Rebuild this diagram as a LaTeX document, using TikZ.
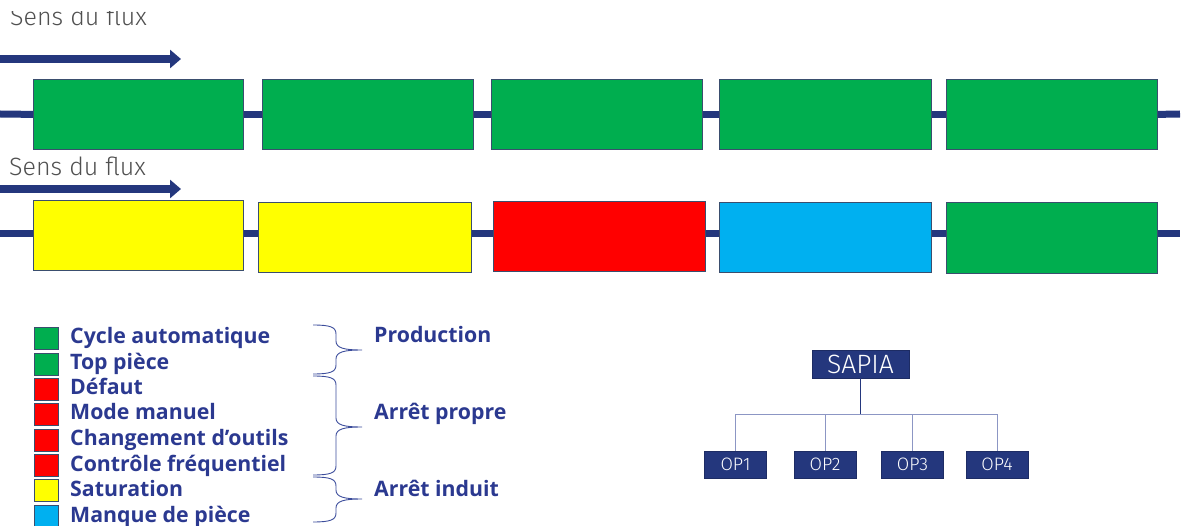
\documentclass[tikz,border=0pt]{standalone}
\usepackage{fontspec}
\usetikzlibrary{arrows.meta}
\newfontfamily\opensans{Open Sans}
\newfontfamily\firalight{Fira Sans Light}

\definecolor{navy}{HTML}{24377D}
\definecolor{legtext}{HTML}{2B3990}
\definecolor{bracecol}{HTML}{3B4C9B}
\definecolor{treeline}{HTML}{8C96C4}
\definecolor{boxedge}{HTML}{3A4E6E}
\definecolor{greytext}{HTML}{505050}
\definecolor{stGreen}{HTML}{00AE4F}
\definecolor{stYellow}{HTML}{FFFF00}
\definecolor{stRed}{HTML}{FF0000}
\definecolor{stBlue}{HTML}{00B0F0}

\tikzset{
  statebox/.style={draw=boxedge, line width=0.8pt, anchor=north west,
    inner sep=0pt, minimum width=#1, minimum height=70pt},
  flowline/.style={draw=navy, line width=7pt},
  flowarrow/.style={draw=navy, line width=8pt, -{Triangle[width=18pt,length=11pt]}},
  flowlabel/.style={anchor=base west, inner sep=0pt, text=greytext,
    font=\firalight\fontsize{25}{25}\selectfont},
  legsquare/.style={draw=boxedge, line width=0.6pt, minimum width=24pt,
    minimum height=22pt, inner sep=0pt},
  legitem/.style={anchor=base west, inner sep=0pt, text=legtext,
    font=\opensans\bfseries\fontsize{21.3}{21.3}\selectfont},
  grouplabel/.style={anchor=base west, inner sep=0pt, text=legtext,
    font=\opensans\bfseries\fontsize{21.3}{21.3}\selectfont},
  bracepath/.style={draw=bracecol, line width=0.9pt},
  treebox/.style={fill=navy, draw=navy!80!black, line width=0.6pt, text=white,
    inner sep=0pt},
  treelink/.style={draw=treeline, line width=1pt},
}

% right curly brace from y=#1 to y=#2 with its point at y=#3
\newcommand\legbrace[3]{%
  \draw[bracepath] (313,#1) .. controls (330,#1) and (336,#1+2) .. (336,#1+9)
    -- (336,#3-9) .. controls (336,#3-2) and (344,#3) .. (362,#3)
    .. controls (344,#3) and (336,#3+2) .. (336,#3+9)
    -- (336,#2-9) .. controls (336,#2-2) and (330,#2) .. (313,#2);}

\begin{document}
\begin{tikzpicture}[x=1pt, y=-1pt]
\useasboundingbox (0,0) rectangle (1186,526);

% ---- first line: all stations in automatic cycle
\begin{scope}
  \clip (0,12) rectangle (300,40);
  \node[flowlabel] (lab1) at (10,26) {Sens du flux};
\end{scope}
\coordinate (a1s) at (0,59);
\coordinate (a1e) at (181,59);
\draw[flowarrow] (a1s) -- (a1e);

\node[statebox=210pt, fill=stGreen] (t1) at (33,79) {};
\node[statebox=211pt, fill=stGreen] (t2) at (262,79) {};
\node[statebox=211pt, fill=stGreen] (t3) at (491,79) {};
\node[statebox=212pt, fill=stGreen] (t4) at (719,79) {};
\node[statebox=211pt, fill=stGreen] (t5) at (946,79) {};
\coordinate (t0) at (0,114);
\coordinate (t6) at (1180,114);
\draw[flowline] (t0) -- (t1.west);
\draw[flowline] (t1.east) -- (t2.west);
\draw[flowline] (t2.east) -- (t3.west);
\draw[flowline] (t3.east) -- (t4.west);
\draw[flowline] (t4.east) -- (t5.west);
\draw[flowline] (t5.east) -- (t6);

% ---- second line: mixed states
\node[flowlabel] (lab2) at (9,176) {Sens du flux};
\coordinate (a2s) at (0,189);
\coordinate (a2e) at (181,189);
\draw[flowarrow] (a2s) -- (a2e);

\node[statebox=210pt, fill=stYellow] (b1) at (33,200) {};
\node[statebox=213pt, fill=stYellow] (b2) at (258,202) {};
\node[statebox=212pt, fill=stRed] (b3) at (493,201) {};
\node[statebox=212pt, fill=stBlue] (b4) at (719,202) {};
\node[statebox=211pt, fill=stGreen, minimum height=71pt] (b5) at (946,202) {};
\coordinate (b0) at (0,234);
\coordinate (b6) at (1180,234);
\draw[flowline] (b0) -- (b1.west |- b0);
\draw[flowline] (b1.east |- b0) -- (b2.west |- b0);
\draw[flowline] (b2.east |- b0) -- (b3.west |- b0);
\draw[flowline] (b3.east |- b0) -- (b4.west |- b0);
\draw[flowline] (b4.east |- b0) -- (b5.west |- b0);
\draw[flowline] (b5.east |- b0) -- (b6);

% ---- legend
\node[legsquare, fill=stGreen]  (s1) at (46,338) {};
\node[legsquare, fill=stGreen]  (s2) at (46,364) {};
\node[legsquare, fill=stRed]    (s3) at (46,389) {};
\node[legsquare, fill=stRed]    (s4) at (46,414) {};
\node[legsquare, fill=stRed]    (s5) at (46,440) {};
\node[legsquare, fill=stRed]    (s6) at (46,465) {};
\node[legsquare, fill=stYellow] (s7) at (46,490) {};
\node[legsquare, fill=stBlue]   (s8) at (46,516) {};

\node[legitem] (l1) at (70,344) {Cycle automatique};
\node[legitem] (l2) at (70,370) {Top pièce};
\node[legitem] (l3) at (70,395) {Défaut};
\node[legitem] (l4) at (70,420) {Mode manuel};
\node[legitem] (l5) at (70,446) {Changement d’outils};
\node[legitem] (l6) at (70,471) {Contrôle fréquentiel};
\node[legitem] (l7) at (70,496) {Saturation};
\node[legitem] (l8) at (70,522) {Manque de pièce};

\legbrace{325}{374}{350}
\legbrace{376}{475}{427}
\legbrace{477}{522}{499}
\node[grouplabel] (g1) at (374,343) {Production};
\node[grouplabel] (g2) at (374,420) {Arrêt propre};
\node[grouplabel] (g3) at (374,496) {Arrêt induit};

% ---- organisation tree
\node[treebox, minimum width=97pt, minimum height=28pt,
  font=\firalight\fontsize{26.5}{26.5}\selectfont] (sapia) at (860.5,364) {SAPIA};
\begin{scope}[every node/.style={treebox, minimum width=62pt, minimum height=27pt,
  font=\firalight\fontsize{18}{18}\selectfont}]
  \node (op1) at (735.5,464.5) {OP1};
  \node (op2) at (825,464.5) {OP2};
  \node (op3) at (912.5,464.5) {OP3};
  \node (op4) at (997,464.5) {OP4};
\end{scope}
\coordinate (bus) at (860.5,414);
\draw[treelink] (op1.north) -- (op1.north |- bus) -- (op4.north |- bus) -- (op4.north);
\draw[treelink] (op2.north) -- (op2.north |- bus);
\draw[treelink] (op3.north) -- (op3.north |- bus);
\draw[draw=navy, line width=1.2pt] (sapia.south) -- (bus);
\end{tikzpicture}
\end{document}
